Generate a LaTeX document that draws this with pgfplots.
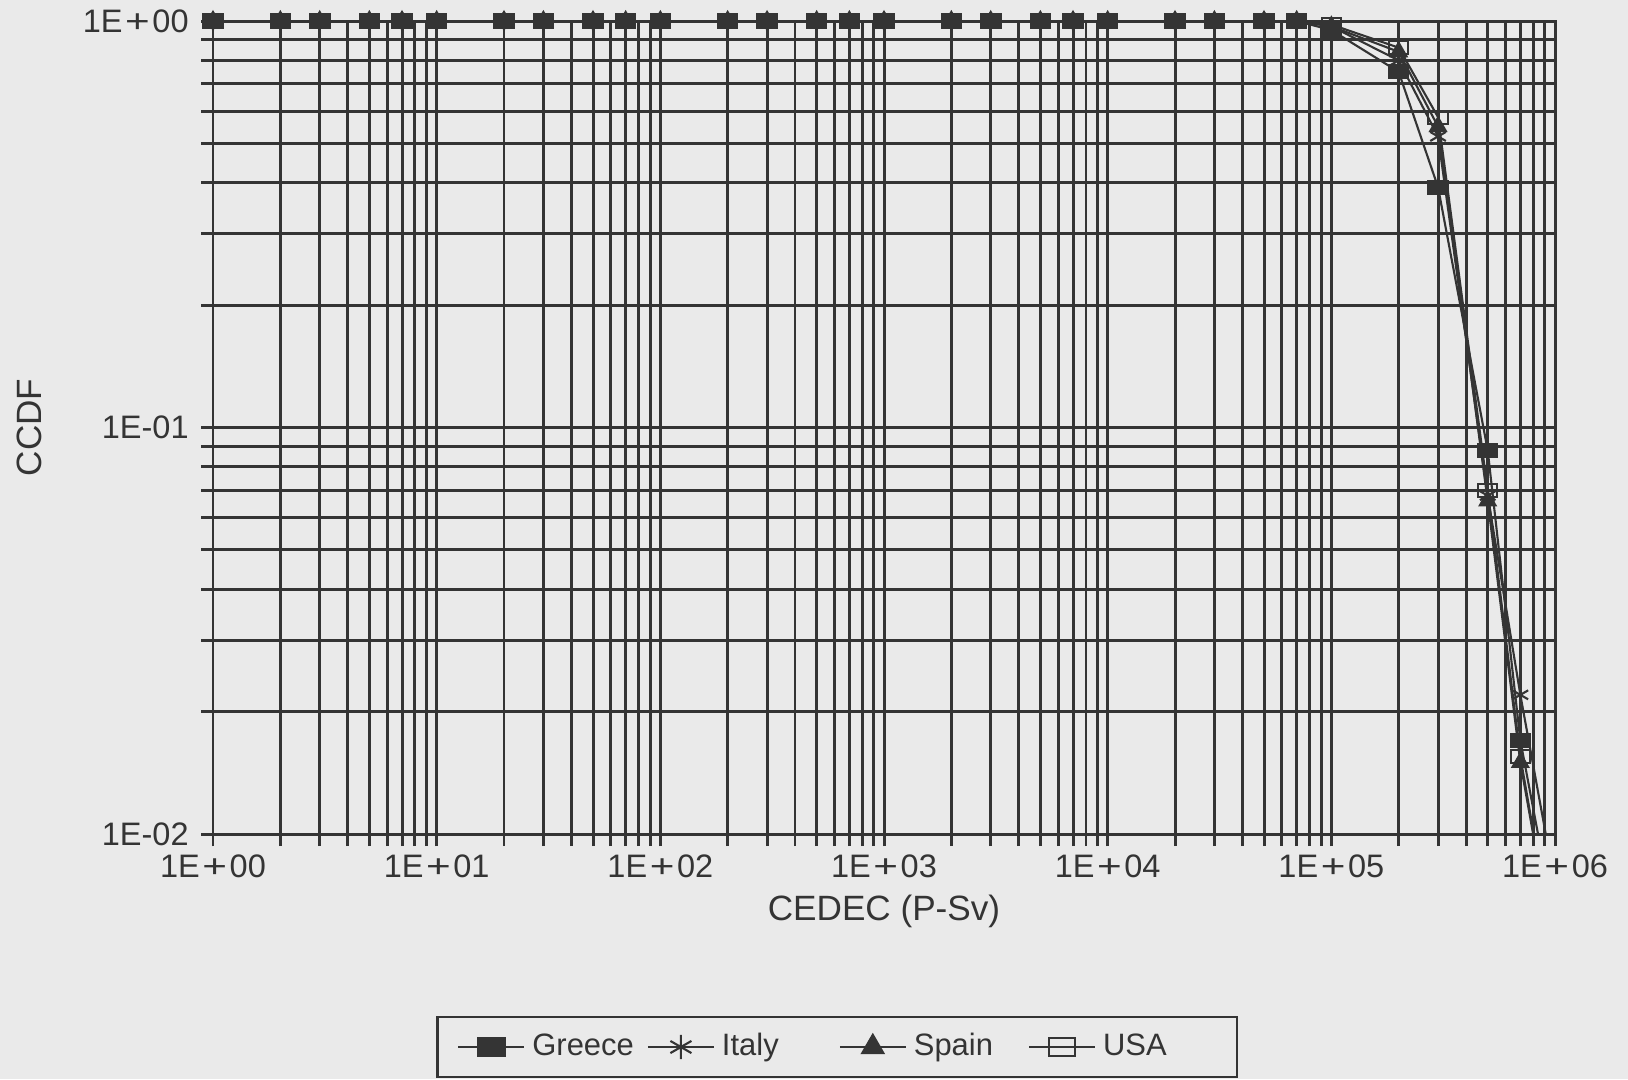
\documentclass[border=0pt]{standalone}
\usepackage{fontspec}
\setmainfont{Liberation Sans}
\usepackage{graphicx}
\usepackage{pgfplots}
\pgfplotsset{compat=1.18}

\definecolor{paper}{RGB}{234,234,234}
\definecolor{ink}{RGB}{52,52,52}

% wide plus sign used in the exponent labels
\newcommand\pls{\kern0.08em\scalebox{1.3}[1]{+}\kern0.08em}

% CEDEC (P-Sv) versus CCDF, one table per country
\pgfplotstableread{
x y
1 1
2 1
3 1
5 1
7 1
10 1
20 1
30 1
50 1
70 1
100 1
200 1
300 1
500 1
700 1
1000 1
2000 1
3000 1
5000 1
7000 1
10000 1
20000 1
30000 1
50000 1
70000 1
100000 0.95
200000 0.75
300000 0.39
500000 0.088
700000 0.017
}\greece
\pgfplotstableread{
x y
1 1
2 1
3 1
5 1
7 1
10 1
20 1
30 1
50 1
70 1
100 1
200 1
300 1
500 1
700 1
1000 1
2000 1
3000 1
5000 1
7000 1
10000 1
20000 1
30000 1
50000 1
70000 1
100000 0.97
200000 0.80
300000 0.52
500000 0.068
700000 0.022
}\italy
\pgfplotstableread{
x y
1 1
2 1
3 1
5 1
7 1
10 1
20 1
30 1
50 1
70 1
100 1
200 1
300 1
500 1
700 1
1000 1
2000 1
3000 1
5000 1
7000 1
10000 1
20000 1
30000 1
50000 1
70000 1
100000 0.97
200000 0.84
300000 0.55
500000 0.066
700000 0.015
}\spain
\pgfplotstableread{
x y
1 1
2 1
3 1
5 1
7 1
10 1
20 1
30 1
50 1
70 1
100 1
200 1
300 1
500 1
700 1
1000 1
2000 1
3000 1
5000 1
7000 1
10000 1
20000 1
30000 1
50000 1
70000 1
100000 0.98
200000 0.86
300000 0.58
500000 0.070
700000 0.0155
}\usa

\begin{document}
\begin{tikzpicture}
\fill[paper] (-2.13cm,-2.45cm) rectangle (14.15cm,8.34cm);
\begin{axis}[
  at={(0,0)}, anchor=south west,
  scale only axis, width=13.42cm, height=8.13cm,
  xmode=log, ymode=log,
  xmin=1, xmax=1e6, ymin=0.01, ymax=1,
  xtick={1,10,100,1000,10000,100000,1000000},
  xticklabels={1E\pls00,1E\pls01,1E\pls02,1E\pls03,1E\pls04,1E\pls05,1E\pls06},
  ytick={0.01,0.1,1},
  yticklabels={1E-02,1E-01,1E\pls00},
  grid=both,
  major grid style={ink, line width=0.85pt},
  minor grid style={ink, line width=0.85pt},
  axis line style={ink, line width=0.85pt},
  tick align=outside, tick pos=left,
  major tick length=1.2mm, minor tick length=1.2mm,
  every tick/.style={ink, line width=0.85pt},
  tick label style={font=\fontsize{9.25}{11}\selectfont, text=ink},
  xticklabel style={yshift=0.4mm},
  xlabel={CEDEC (P-Sv)}, ylabel={CCDF},
  label style={font=\fontsize{10}{12}\selectfont, text=ink},
  xlabel style={at={(axis description cs:0.5,-0.1058)}, anchor=base},
  ylabel style={at={(axis description cs:-0.1371,0.5)}, anchor=center},
  legend columns=4,
  reverse legend,
  legend image code/.code={%
    \draw[mark repeat=2,mark phase=2, every mark/.append style={scale=1.35}]
      plot coordinates {(0cm,0cm) (0.33cm,0cm) (0.66cm,0cm)};},
  legend style={
    at={(axis description cs:0.465,-0.262)}, anchor=center,
    draw=ink, line width=0.7pt, fill=paper,
    font=\fontsize{8.8}{10}\selectfont, text=ink,
    inner xsep=2mm, inner ysep=0.9mm,
    /tikz/every even column/.append style={column sep=0.6mm},
  },
]
% USA
\addplot[ink, line width=0.6pt, mark=square, mark size=0.65mm,
  mark options={xscale=1.5, fill=paper, solid}] table {\usa};
\addlegendentry{USA\hspace*{4.3mm}}
% Spain
\addplot[ink, line width=0.6pt, mark=triangle*, mark size=0.9mm,
  mark options={fill=ink, solid}] table {\spain};
\addlegendentry{Spain\hspace*{2.2mm}}
% Italy
\addplot[ink, line width=0.6pt, mark=asterisk, mark size=0.9mm,
  mark options={solid}] table {\italy};
\addlegendentry{Italy\hspace*{4.7mm}}
% Greece
\addplot[ink, line width=0.6pt, mark=square*, mark size=0.65mm,
  mark options={xscale=1.5, fill=ink, solid}] table {\greece};
\addlegendentry{Greece}
% tails below the lower axis limit
\addplot[ink, line width=0.6pt, forget plot] coordinates {(700000,0.0155) (1000000,0.005)};
\addplot[ink, line width=0.6pt, forget plot] coordinates {(700000,0.015) (1000000,0.005)};
\addplot[ink, line width=0.6pt, forget plot] coordinates {(700000,0.022) (1000000,0.0075)};
\addplot[ink, line width=0.6pt, forget plot] coordinates {(700000,0.017) (1000000,0.006)};
\end{axis}
\pgfresetboundingbox
\path (-2.13cm,-2.45cm) rectangle (14.15cm,8.34cm);
\end{tikzpicture}
\end{document}
